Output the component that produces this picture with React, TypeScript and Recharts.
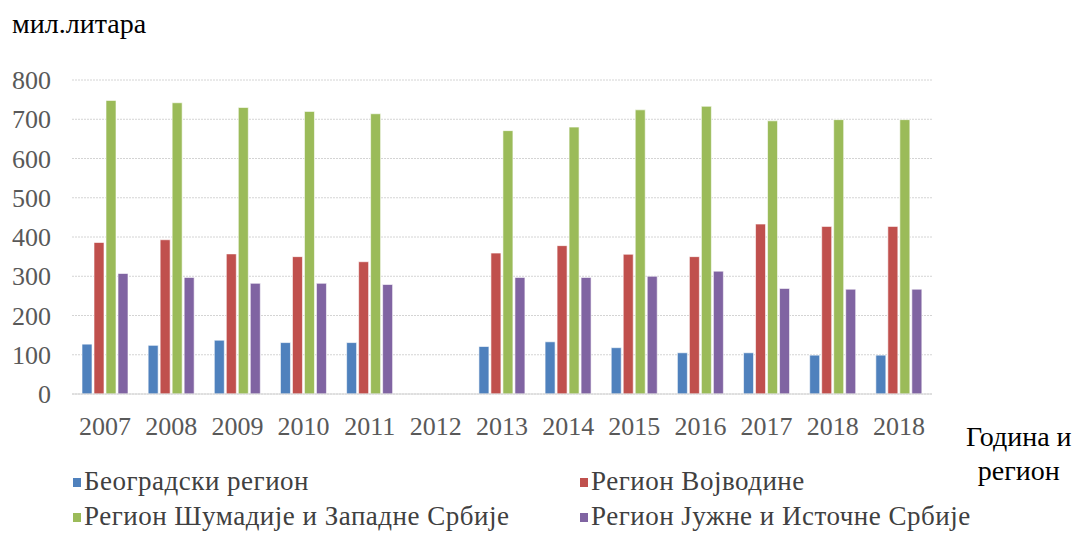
import React from "react";
import { BarChart, Bar, XAxis, YAxis, CartesianGrid, Legend } from "recharts";

const years = ["2007", "2008", "2009", "2010", "2011", "2012", "2013", "2014", "2015", "2016", "2017", "2018", "2018"];
const belgrade = [127, 124, 137, 131, 131, null, 121, 133, 118, 105, 105, 99, 99];
const vojvodina = [386, 393, 357, 350, 337, null, 359, 378, 356, 350, 433, 427, 427];
const sumadija = [748, 742, 730, 720, 714, null, 671, 680, 724, 733, 696, 699, 699];
const south = [307, 297, 282, 282, 279, null, 297, 297, 300, 313, 269, 267, 267];
const yTicks = [0, 100, 200, 300, 400, 500, 600, 700, 800];

const series = [
  { key: "belgrade", name: "Београдски регион", color: "#4F81BD" },
  { key: "vojvodina", name: "Регион Војводине", color: "#C0504D" },
  { key: "sumadija", name: "Регион Шумадије и Западне Србије", color: "#9BBB59" },
  { key: "south", name: "Регион Јужне и Источне Србије", color: "#8064A2" },
];

const data = years.map((year, i) => ({
  id: i,
  year,
  belgrade: belgrade[i],
  vojvodina: vojvodina[i],
  sumadija: sumadija[i],
  south: south[i],
}));

const font = "Liberation Serif";

// keep legend in series order (recharts sorts by name otherwise)
const LegendBox = (props: any) => {
  const items = [...(props.payload || [])].sort(
    (a: any, b: any) =>
      series.findIndex((s) => s.name === a.value) - series.findIndex((s) => s.name === b.value)
  );
  return (
    <div
      style={{
        display: "grid",
        gridTemplateColumns: "507px 420px",
        rowGap: 5,
        paddingLeft: 65,
        paddingTop: 14,
        fontFamily: font,
        fontSize: 27,
        lineHeight: "30px",
        letterSpacing: 0.5,
        color: "#404040",
      }}
    >
      {items.map((it: any) => (
        <div key={it.value} style={{ display: "flex", alignItems: "center", height: 30, whiteSpace: "nowrap" }}>
          <span
            style={{ width: 8, height: 9, background: it.color, marginRight: 3, marginTop: 3, display: "inline-block" }}
          />
          <span>{it.value}</span>
        </div>
      ))}
    </div>
  );
};

const tickStyle = { fill: "#595959", fontSize: 26, fontFamily: font };

const App = () => {
  return (
    <div style={{ position: "relative", width: 1064, height: 525, fontFamily: font }}>
      <div style={{ position: "absolute", left: 4, top: 0, fontSize: 28, color: "#000" }}>мил.литара</div>
      <div
        style={{
          position: "absolute",
          left: 958,
          top: 412,
          fontSize: 28,
          color: "#000",
          textAlign: "center",
          lineHeight: "34px",
          zIndex: 2,
        }}
      >
        Година и
        <br />
        регион
      </div>
      <BarChart
        width={1064}
        height={525}
        data={data}
        margin={{ top: 72, right: 140, left: 0, bottom: 0 }}
        barGap={2}
        barCategoryGap={10}
      >
        <CartesianGrid vertical={false} stroke="#d4d4d4" strokeDasharray="2 1" />
        <XAxis
          dataKey="year"
          allowDuplicatedCategory={true}
          height={58}
          tickLine={false}
          axisLine={{ stroke: "#d4d4d4" }}
          tick={tickStyle}
          tickMargin={17}
          interval={0}
        />
        <YAxis
          width={64}
          domain={[0, 800]}
          ticks={yTicks}
          tickLine={false}
          axisLine={false}
          tickSize={0}
          tickMargin={21}
          tick={tickStyle}
        />
        <Legend verticalAlign="bottom" align="left" height={81} content={<LegendBox />} />
        {series.map((s) => (
          <Bar
            key={s.key}
            dataKey={s.key}
            name={s.name}
            fill={s.color}
            stroke="#ffffff"
            strokeWidth={0.6}
            isAnimationActive={false}
          />
        ))}
      </BarChart>
    </div>
  );
};

export default App;
